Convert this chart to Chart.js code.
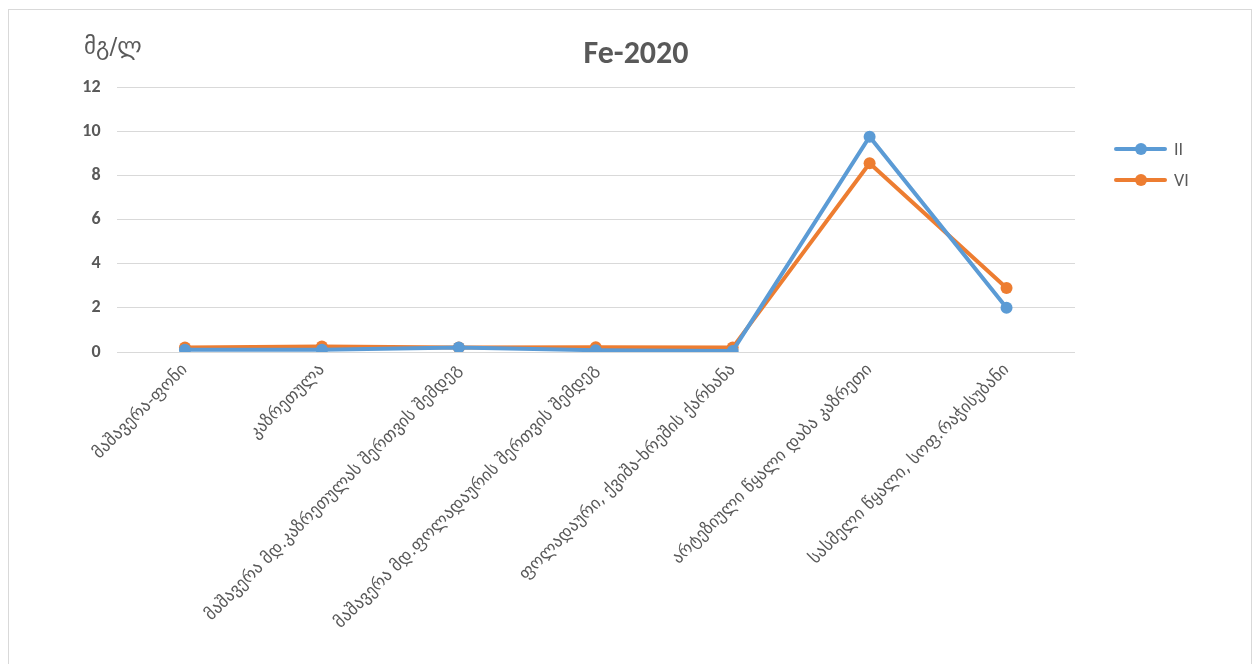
<!DOCTYPE html>
<html>
<head>
<meta charset="utf-8">
<script src="https://cdn.jsdelivr.net/npm/chart.js@4/dist/chart.umd.min.js"></script>
<style>
html,body{margin:0;padding:0;background:#fff;}
#wrap{width:1260px;height:664px;}
</style>
</head>
<body>
<div id="wrap"><canvas id="c" width="1260" height="664"></canvas></div>
<script>
const categories = [
  "მაშავერა-ფონი",
  "კაზრეთულა",
  "მაშავერა მდ.კაზრეთულას შერთვის შემდეგ",
  "მაშავერა მდ.ფოლადაურის შერთვის შემდეგ",
  "ფოლადაური, ქვიშა-ხრეშის ქარხანა",
  "არტეზიული წყალი დაბა კაზრეთი",
  "სასმელი წყალი, სოფ.რაჭისუბანი"
];
const seriesII = [0.1, 0.1, 0.2, 0.08, 0.05, 9.75, 2.0];
const seriesVI = [0.2, 0.25, 0.2, 0.22, 0.2, 8.55, 2.9];
const seriesNames = ["II", "VI"];
const yTicks = [0, 2, 4, 6, 8, 10, 12];
const titleText = "Fe-2020";
const unitText = "მგ/ლ";

const BLUE = "#5B9BD5", ORANGE = "#ED7D31", GRAY = "#595959";
const GEO = "'DejaVu Sans', 'Noto Sans', sans-serif";
const LAT = "Calibri, Carlito, 'Open Sans', sans-serif";

const decor = {
  id: "decor",
  beforeDraw(chart) {
    const ctx = chart.ctx;
    ctx.save();
    ctx.strokeStyle = "#d9d9d9";
    ctx.lineWidth = 1;
    ctx.strokeRect(8.5, 9.5, 1243, 670);
    ctx.restore();
  },
  afterDraw(chart) {
    const ctx = chart.ctx;
    ctx.save();
    ctx.fillStyle = GRAY;
    ctx.textBaseline = "middle";
    ctx.textAlign = "center";
    ctx.font = "bold 32px " + LAT;
    ctx.fillText(titleText, 636, 55);
    ctx.textAlign = "left";
    ctx.font = "23px " + GEO;
    ctx.fillText(unitText, 84, 48);
    const items = chart.data.datasets;
    items.forEach((ds, i) => {
      const y = 149 + i * 31;
      ctx.strokeStyle = ds.borderColor;
      ctx.lineWidth = 4;
      ctx.lineCap = "round";
      ctx.beginPath();
      ctx.moveTo(1116, y);
      ctx.lineTo(1165, y);
      ctx.stroke();
      ctx.fillStyle = ds.borderColor;
      ctx.beginPath();
      ctx.arc(1141, y, 6, 0, Math.PI * 2);
      ctx.fill();
      ctx.fillStyle = GRAY;
      ctx.font = "18px " + LAT;
      ctx.textAlign = "left";
      ctx.fillText(ds.label, 1174, y + 1);
    });
    ctx.restore();
  }
};

new Chart(document.getElementById("c"), {
  type: "line",
  data: {
    labels: categories,
    datasets: [
      { label: seriesNames[0], data: seriesII, borderColor: BLUE, backgroundColor: BLUE,
        borderWidth: 4, pointRadius: 6, pointHoverRadius: 6, pointBorderWidth: 0, tension: 0 },
      { label: seriesNames[1], data: seriesVI, borderColor: ORANGE, backgroundColor: ORANGE,
        borderWidth: 4, pointRadius: 6, pointHoverRadius: 6, pointBorderWidth: 0, tension: 0 }
    ]
  },
  options: {
    responsive: false,
    animation: false,
    events: [],
    layout: { padding: { top: 87, right: 185, left: 0, bottom: 0 } },
    plugins: { legend: { display: false }, title: { display: false }, tooltip: { enabled: false } },
    scales: {
      x: {
        offset: true,
        grid: { display: false, drawTicks: false },
        border: { display: false },
        ticks: {
          autoSkip: false, minRotation: 45, maxRotation: 45, padding: 8,
          color: GRAY, font: { family: GEO, size: 17 }
        },
        afterFit(scale) { scale.height = 312; }
      },
      y: {
        min: 0, max: 12,
        afterBuildTicks(scale) { scale.ticks = yTicks.map(v => ({ value: v })); },
        grid: { color: "#d9d9d9", lineWidth: 1, drawTicks: false },
        border: { display: false },
        ticks: {
          padding: 16, color: GRAY,
          font: { family: LAT, size: 18, weight: "bold" }
        },
        afterFit(scale) { scale.width = 116.5; }
      }
    }
  },
  plugins: [decor]
});
</script>
</body>
</html>
